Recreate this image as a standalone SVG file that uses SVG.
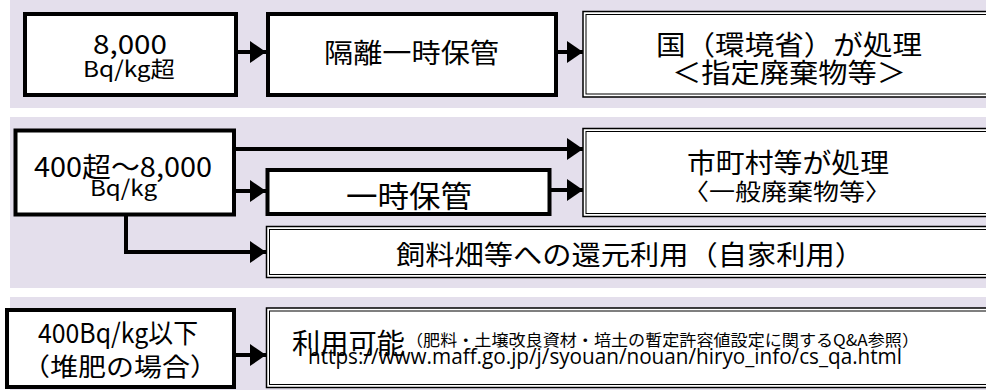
<svg xmlns="http://www.w3.org/2000/svg" width="986" height="390" viewBox="0 0 986 390">
<style>
.band{fill:#E4DFEC}
.box{fill:#fff;stroke:#000;stroke-width:4}
.dout{fill:#fff;stroke:#000;stroke-width:1.5}
.din{fill:none;stroke:#000;stroke-width:1}
.t{font-family:"Noto Sans CJK JP","Noto Sans",sans-serif;fill:#000}
.u{font-family:"Open Sans","Liberation Sans",sans-serif;fill:#000}
.c{fill:none;stroke:#000;stroke-width:4}
</style>
<defs>
<marker id="ah" markerUnits="userSpaceOnUse" markerWidth="16" markerHeight="22" refX="16" refY="11" orient="auto" viewBox="0 0 16 22"><path d="M0,0 L16,11 L0,22 z" fill="#000"/></marker>
</defs>
<rect width="986" height="390" fill="#fff"/>
<g id="bands">
<rect class="band" x="10" y="0" width="976" height="108"/>
<rect class="band" x="10" y="117" width="976" height="171"/>
<rect class="band" x="10" y="297" width="976" height="93"/>
</g>
<g id="connectors">
<path class="c" d="M236,52 H266" marker-end="url(#ah)"/>
<path class="c" d="M556,52 H583" marker-end="url(#ah)"/>
<path class="c" d="M234,149 H583" marker-end="url(#ah)"/>
<path class="c" d="M234,191 H266" marker-end="url(#ah)"/>
<path class="c" d="M550,190 H583" marker-end="url(#ah)"/>
<path class="c" d="M126,215 V252 H266" marker-end="url(#ah)"/>
<path class="c" d="M234,355 H266" marker-end="url(#ah)"/>
</g>
<g id="n1">
<rect class="box" x="25" y="14" width="211" height="81"/>
<text class="t" x="93" y="54" font-size="27" textLength="74" lengthAdjust="spacingAndGlyphs">8,000</text>
<text class="t" x="83" y="77" font-size="22" textLength="92" lengthAdjust="spacingAndGlyphs">Bq/kg超</text>
</g>
<g id="n2">
<rect class="box" x="268" y="14" width="288" height="81"/>
<text class="t" x="324" y="63" font-size="27" textLength="175" lengthAdjust="spacingAndGlyphs">隔離一時保管</text>
</g>
<g id="n3">
<rect class="dout" x="583" y="11.5" width="413" height="85.5"/>
<rect class="din" x="586" y="14.5" width="407" height="79.5"/>
<text class="t" x="656" y="55" font-size="27" textLength="266" lengthAdjust="spacingAndGlyphs">国（環境省）が処理</text>
<text class="t" x="672" y="83" font-size="27" textLength="234" lengthAdjust="spacingAndGlyphs">＜指定廃棄物等＞</text>
</g>
<g id="n4">
<rect class="box" x="15.5" y="130.5" width="218.5" height="84"/>
<text class="t" x="34" y="177" font-size="27" textLength="178" lengthAdjust="spacingAndGlyphs">400超～8,000</text>
<text class="t" x="90" y="196" font-size="22" textLength="67" lengthAdjust="spacingAndGlyphs">Bq/kg</text>
</g>
<g id="n5">
<rect class="box" x="267.5" y="170" width="282" height="44"/>
<text class="t" x="346" y="207" font-size="30" textLength="126" lengthAdjust="spacingAndGlyphs">一時保管</text>
</g>
<g id="n6">
<rect class="dout" x="583" y="128.5" width="413" height="88"/>
<rect class="din" x="586" y="131.5" width="407" height="82"/>
<text class="t" x="687" y="173" font-size="27" textLength="202" lengthAdjust="spacingAndGlyphs">市町村等が処理</text>
<text class="t" x="683" y="200" font-size="23" textLength="208" lengthAdjust="spacingAndGlyphs">〈一般廃棄物等〉</text>
</g>
<g id="n7">
<rect class="dout" x="266.5" y="226.5" width="730" height="51"/>
<rect class="din" x="269.5" y="229.5" width="724" height="45"/>
<text class="t" x="396" y="265" font-size="27" textLength="468" lengthAdjust="spacingAndGlyphs">飼料畑等への還元利用（自家利用）</text>
</g>
<g id="n8">
<rect class="box" x="7" y="310" width="227" height="77"/>
<text class="t" x="38" y="343" font-size="27" textLength="160" lengthAdjust="spacingAndGlyphs">400Bq/kg以下</text>
<text class="t" x="22" y="376" font-size="25" textLength="196" lengthAdjust="spacingAndGlyphs">（堆肥の場合）</text>
</g>
<g id="n9">
<rect class="dout" x="266.5" y="308" width="730" height="79.5"/>
<rect class="din" x="269.5" y="311" width="724" height="73.5"/>
<text class="t" x="292" y="354" font-size="28" textLength="113" lengthAdjust="spacingAndGlyphs">利用可能</text>
<text class="t" x="406" y="346" font-size="16" textLength="513" lengthAdjust="spacingAndGlyphs">（肥料・土壌改良資材・培土の暫定許容値設定に関するQ&amp;A参照）</text>
<text class="u" x="308" y="364" font-size="22" textLength="594" lengthAdjust="spacingAndGlyphs">https://www.maff.go.jp/j/syouan/nouan/hiryo_info/cs_qa.html</text>
</g>
</svg>
